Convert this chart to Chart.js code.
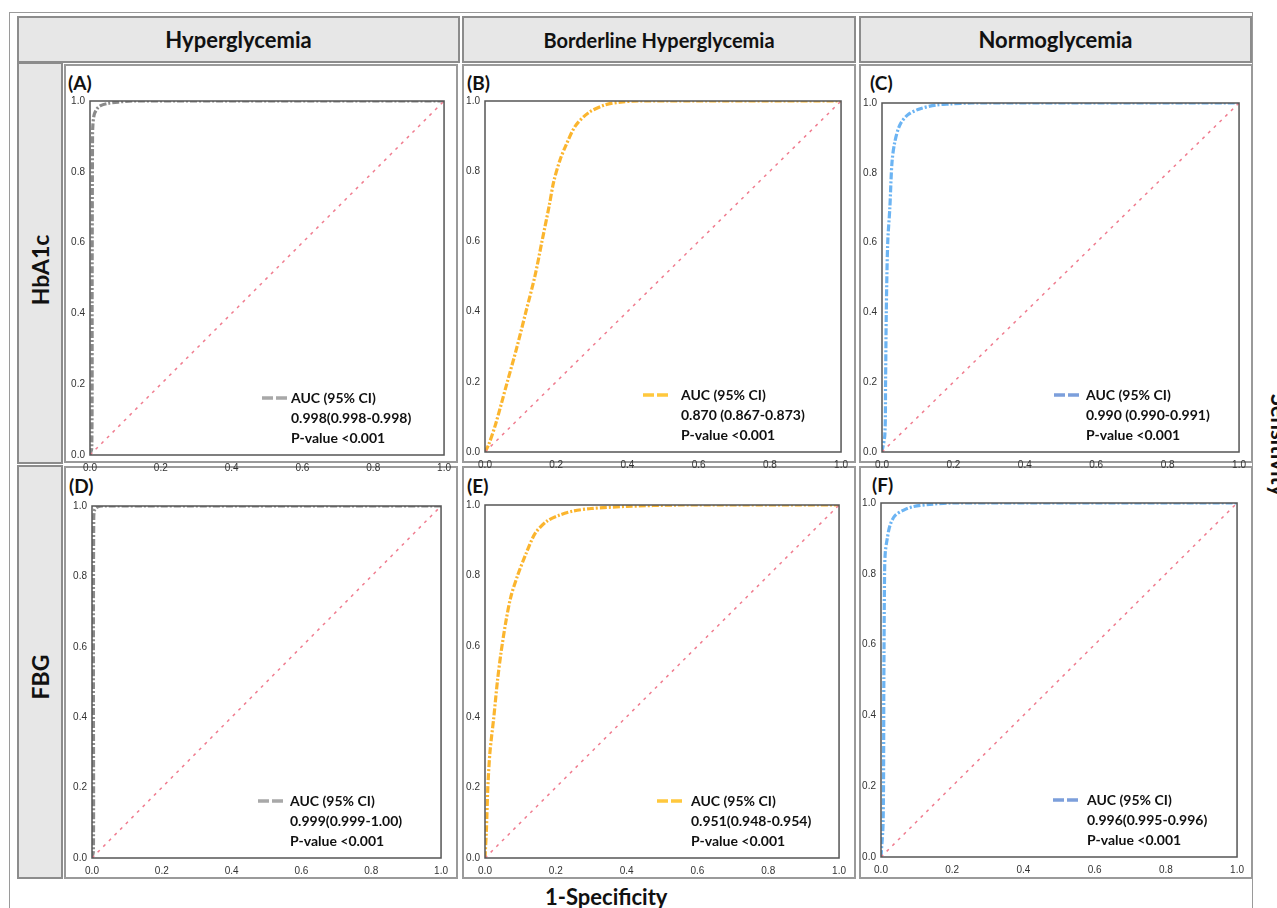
<!DOCTYPE html>
<html lang="en">
<head>
  <meta charset="UTF-8" />
  <title>ROC curves</title>
  <script src="https://cdn.jsdelivr.net/npm/chart.js"></script>
  <style>
    body { margin: 0; background: #fff; width: 1277px; height: 908px; overflow: hidden; position: relative; font-family: Lato, "Open Sans", sans-serif; }
    .abs { position: absolute; box-sizing: border-box; }
    .frame { left: 9px; top: 12px; width: 1244px; height: 920px; border: 1.5px solid #9a9a9a; }
    .head { background: #e7e7e7; border: 2px solid #8c8c8c; font-weight: bold; font-size: 22px; color: #111;
            display: flex; align-items: center; justify-content: center; }
    .rowlab { background: #e7e7e7; border: 2px solid #8c8c8c; }
    .rowtxt { font-weight: bold; font-size: 23px; color: #111; transform: translate(-50%, -50%) rotate(-90deg); white-space: nowrap; }
    .panel { background: #fff; border: 2px solid #9a9a9a; }
    .letter { font-weight: bold; font-size: 19px; color: #111; }
    canvas { position: absolute; }
  </style>
</head>
<body>
  <div class="abs frame"></div>

  <div class="abs head" style="left:17px;top:16px;width:443px;height:47px;">Hyperglycemia</div>
  <div class="abs head" style="left:462px;top:16px;width:394px;height:47px;font-size:20px;">Borderline Hyperglycemia</div>
  <div class="abs head" style="left:859px;top:16px;width:393px;height:47px;">Normoglycemia</div>

  <div class="abs rowlab" style="left:17px;top:62px;width:46px;height:402px;"></div>
  <div class="abs rowlab" style="left:17px;top:465px;width:46px;height:414px;"></div>
  <div class="abs rowtxt" style="left:40px;top:270px;">HbA1c</div>
  <div class="abs rowtxt" style="left:40px;top:677px;">FBG</div>

  <div class="abs panel" style="left:64px;top:64px;width:394px;height:399px;"></div>
  <div class="abs panel" style="left:462px;top:64px;width:394px;height:399px;"></div>
  <div class="abs panel" style="left:859px;top:64px;width:394px;height:399px;"></div>
  <div class="abs panel" style="left:64px;top:466px;width:394px;height:413px;"></div>
  <div class="abs panel" style="left:462px;top:466px;width:394px;height:413px;"></div>
  <div class="abs panel" style="left:859px;top:466px;width:394px;height:413px;"></div>

  <div class="abs letter" style="left:68px;top:71px;">(A)</div>
  <div class="abs letter" style="left:467px;top:71px;">(B)</div>
  <div class="abs letter" style="left:870px;top:71px;">(C)</div>
  <div class="abs letter" style="left:69px;top:474px;">(D)</div>
  <div class="abs letter" style="left:467px;top:474px;">(E)</div>
  <div class="abs letter" style="left:872px;top:473px;">(F)</div>

  <div class="abs" style="left:545px;top:883px;font-weight:bold;font-size:22px;color:#111;">1-Specificity</div>
  <div class="abs" style="left:1279px;top:445px;font-weight:bold;font-size:22px;color:#111;transform:translate(-50%,-50%) rotate(90deg);white-space:nowrap;">Sensitivity</div>

<script>
  // axis ticks
  const tickVals = [0, 0.2, 0.4, 0.6, 0.8, 1.0];
  const diagonal = [0, 1];

  // HbA1c - Hyperglycemia
  const fprA = [0, 0.005, 0.006, 0.007, 0.008, 0.012, 0.02, 0.03, 0.05, 0.08, 0.12, 1];
  const tprA = [0, 0.02, 0.5, 0.88, 0.93, 0.962, 0.978, 0.987, 0.993, 0.997, 1, 1];
  // HbA1c - Borderline
  const fprB = [0, 0.01, 0.03, 0.06, 0.09, 0.115, 0.14, 0.16, 0.18, 0.193, 0.21, 0.227, 0.254, 0.29, 0.337, 0.381, 0.43, 1];
  const tprB = [0, 0.02, 0.08, 0.19, 0.3, 0.4, 0.5, 0.6, 0.7, 0.77, 0.83, 0.873, 0.929, 0.966, 0.989, 0.997, 1, 1];
  // HbA1c - Normoglycemia
  const fprC = [0, 0.008, 0.01, 0.012, 0.016, 0.022, 0.028, 0.036, 0.05, 0.072, 0.105, 0.15, 0.19, 0.25, 1];
  const tprC = [0, 0.05, 0.2, 0.4, 0.6, 0.7, 0.83, 0.889, 0.937, 0.966, 0.983, 0.994, 0.997, 1, 1];
  // FBG - Hyperglycemia
  const fprD = [0, 0.004, 0.004, 0.005, 0.008, 0.015, 0.03, 1];
  const tprD = [0, 0.02, 0.5, 0.97, 0.99, 0.997, 1, 1];
  // FBG - Borderline
  const fprE = [0, 0.004, 0.008, 0.014, 0.025, 0.035, 0.045, 0.059, 0.073, 0.092, 0.115, 0.142, 0.176, 0.212, 0.25, 0.3, 0.4, 0.55, 1];
  const tprE = [0, 0.08, 0.2, 0.3, 0.4, 0.5, 0.58, 0.67, 0.74, 0.8, 0.86, 0.92, 0.955, 0.972, 0.983, 0.99, 0.996, 1, 1];
  // FBG - Normoglycemia
  const fprF = [0, 0.006, 0.008, 0.01, 0.012, 0.017, 0.025, 0.039, 0.064, 0.092, 0.137, 0.2, 1];
  const tprF = [0, 0.1, 0.5, 0.8, 0.86, 0.896, 0.936, 0.964, 0.98, 0.99, 0.996, 1, 1];

  const aucA = ['AUC (95% CI)', '0.998(0.998-0.998)', 'P-value <0.001'];
  const aucB = ['AUC (95% CI)', '0.870 (0.867-0.873)', 'P-value <0.001'];
  const aucC = ['AUC (95% CI)', '0.990 (0.990-0.991)', 'P-value <0.001'];
  const aucD = ['AUC (95% CI)', '0.999(0.999-1.00)', 'P-value <0.001'];
  const aucE = ['AUC (95% CI)', '0.951(0.948-0.954)', 'P-value <0.001'];
  const aucF = ['AUC (95% CI)', '0.996(0.995-0.996)', 'P-value <0.001'];

  const gray = '#8a8a8a', orange = '#fbb52e', blue = '#6cb4f3';

  // plot box = [left, top, right, bottom] in page pixels
  const panels = [
    { fpr: fprA, tpr: tprA, color: gray,   legColor: '#a8a8a8', auc: aucA, box: [90, 98, 450, 455],  dash: 172, text: 201 },
    { fpr: fprB, tpr: tprB, color: orange, legColor: '#ffc83d', auc: aucB, box: [485, 98, 847, 452], dash: 158, text: 196 },
    { fpr: fprC, tpr: tprC, color: blue,   legColor: '#7c9fdb', auc: aucC, box: [882, 100, 1245, 452], dash: 172, text: 204 },
    { fpr: fprD, tpr: tprD, color: gray,   legColor: '#a8a8a8', auc: aucD, box: [92, 503, 447, 858], dash: 166, text: 198 },
    { fpr: fprE, tpr: tprE, color: orange, legColor: '#ffc83d', auc: aucE, box: [485, 502, 845, 858], dash: 172, text: 206 },
    { fpr: fprF, tpr: tprF, color: blue,   legColor: '#7c9fdb', auc: aucF, box: [881, 500, 1243, 857], dash: 172, text: 206 }
  ];

  panels.forEach(p => {
    const [L, T, R, B] = p.box;
    const cv = document.createElement('canvas');
    cv.width = (R - L) + 36;
    cv.height = (B - T) + 28;
    cv.style.left = (L - 28) + 'px';
    cv.style.top = (T - 8) + 'px';
    document.body.appendChild(cv);

    const frame = {
      id: 'frame',
      afterDraw(chart) {
        const a = chart.chartArea, ctx = chart.ctx;
        ctx.save();
        ctx.strokeStyle = '#555';
        ctx.lineWidth = 1.5;
        ctx.strokeRect(a.left, a.top, a.right - a.left, a.bottom - a.top);
        // legend
        const y0 = a.bottom - 57;
        ctx.strokeStyle = p.legColor;
        ctx.lineWidth = 3.5;
        ctx.setLineDash([11, 3]);
        ctx.beginPath();
        ctx.moveTo(a.left + p.dash, y0);
        ctx.lineTo(a.left + p.dash + 25, y0);
        ctx.stroke();
        ctx.setLineDash([]);
        ctx.fillStyle = '#111';
        ctx.font = 'bold 14px Lato';
        ctx.textBaseline = 'middle';
        p.auc.forEach((t, i) => ctx.fillText(t, a.left + p.text, y0 + i * 20));
        ctx.restore();
      }
    };

    new Chart(cv.getContext('2d'), {
      type: 'scatter',
      data: {
        datasets: [
          {
            data: diagonal.map(v => ({ x: v, y: v })),
            showLine: true, borderColor: '#f07c8f', borderWidth: 1.5,
            borderDash: [3, 5], pointRadius: 0
          },
          {
            data: p.fpr.map((x, i) => ({ x: x, y: p.tpr[i] })),
            showLine: true, borderColor: p.color, borderWidth: 3.2,
            borderDash: [7, 2, 2, 2], pointRadius: 0, tension: 0.3
          }
        ]
      },
      options: {
        responsive: false,
        animation: false,
        devicePixelRatio: 1,
        layout: { padding: { left: 6, top: 8, right: 8, bottom: 4 } },
        plugins: { legend: { display: false }, tooltip: { enabled: false } },
        scales: {
          x: {
            min: 0, max: 1,
            grid: { display: false, drawTicks: false }, border: { display: false },
            afterFit: s => { s.height = 16; },
            afterBuildTicks: s => { s.ticks = tickVals.map(v => ({ value: v })); },
            ticks: { padding: 7, color: '#333', font: { family: 'Liberation Sans', size: 10 },
                     callback: v => v.toFixed(1), maxRotation: 0 }
          },
          y: {
            min: 0, max: 1,
            grid: { display: false, drawTicks: false }, border: { display: false },
            afterFit: s => { s.width = 22; },
            afterBuildTicks: s => { s.ticks = tickVals.map(v => ({ value: v })); },
            ticks: { padding: 5, color: '#333', font: { family: 'Liberation Sans', size: 10 },
                     callback: v => v.toFixed(1) }
          }
        }
      },
      plugins: [frame]
    });
  });
</script>
</body>
</html>
